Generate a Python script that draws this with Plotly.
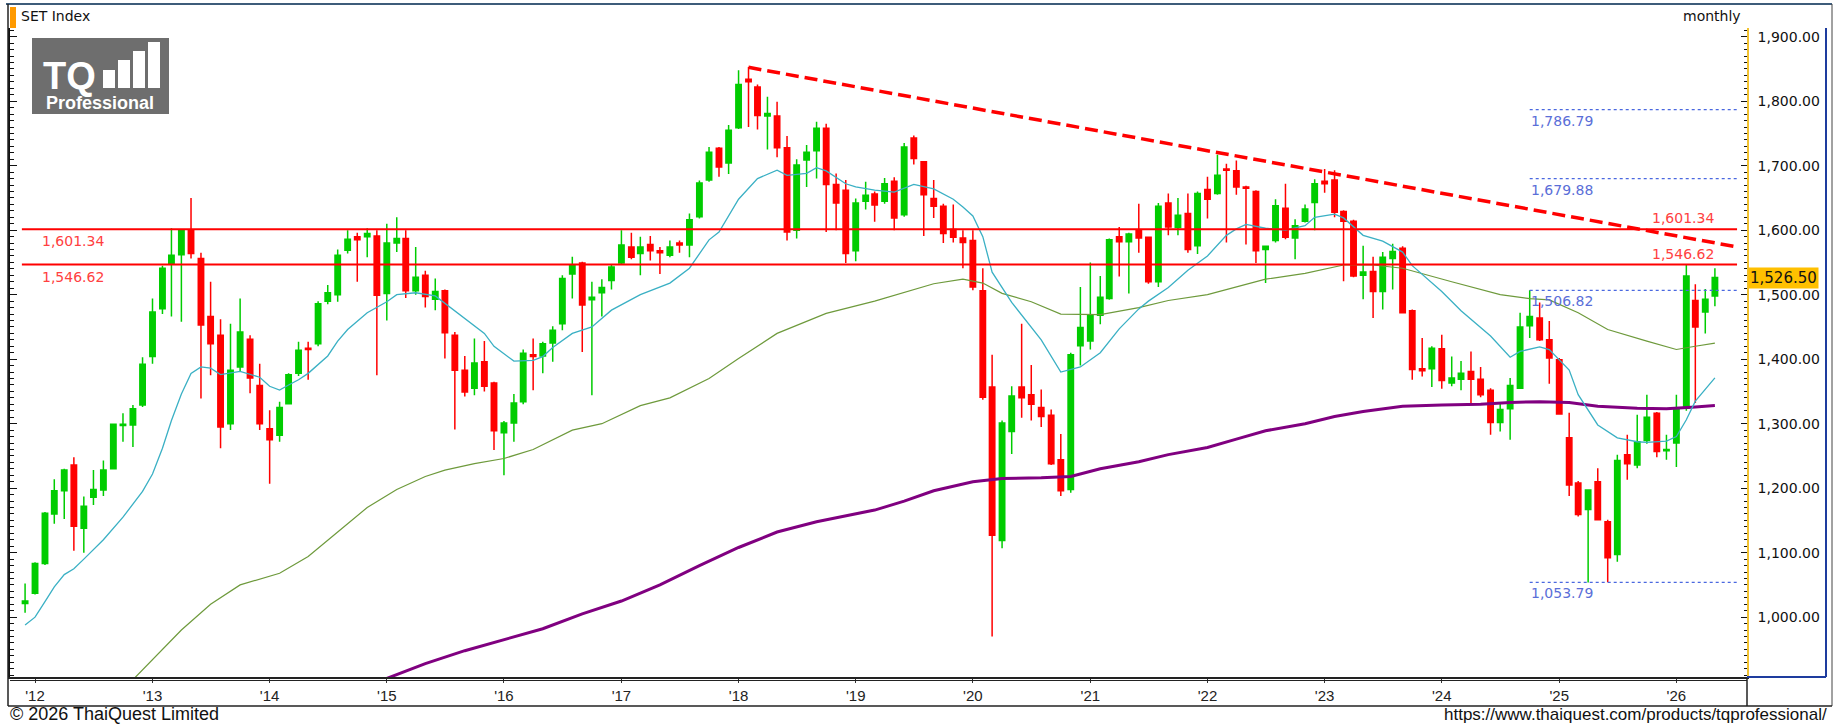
import plotly.graph_objects as go
import pandas as pd

# ---------------- DATA ----------------
months = pd.date_range("2011-12-01", "2026-05-01", freq="MS")

opens = [
1021,
1037,1083,1160,1196,1236,1138,1186,1197,1230,1297,1298,1329,
1404,1478,1548,1562,1600,1556,1466,1437,1300,1388,1431,1359,
1292,1282,1331,1378,1417,1424,1490,1500,1569,1590,1590,1591,
1502,1580,1587,1506,1530,1493,1506,1437,1383,1355,1396,1363,
1286,1301,1334,1407,1405,1425,1455,1532,1549,1492,1503,1522,
1549,1574,1564,1578,1568,1561,1580,1577,1621,1678,1727,1704,
1759,1834,1822,1777,1777,1728,1600,1709,1723,1758,1671,1662,
1568,1645,1656,1645,1676,1624,1743,1706,1649,1637,1601,1588,
1584,1506,1357,1119,1288,1357,1345,1325,1313,1244,1198,1421,
1428,1468,1494,1590,1582,1600,1589,1520,1642,1604,1626,1576,
1663,1657,1695,1692,1667,1660,1570,1584,1634,1588,1614,1643,
1676,1678,1629,1614,1530,1536,1505,1556,1572,1475,1385,1385,
1416,1363,1369,1381,1369,1352,1302,1323,1355,1452,1464,1430,
1399,1278,1208,1167,1210,1148,1097,1252,1236,1274,1316,1258,
1270,1324,1491,1473,1498]

highs = [
1052,
1085,1163,1214,1230,1248,1187,1228,1243,1300,1316,1329,1403,
1494,1545,1603,1601,1650,1565,1520,1462,1455,1494,1437,1393,
1321,1334,1378,1427,1427,1490,1515,1570,1600,1596,1603,1600,
1610,1620,1600,1574,1537,1525,1508,1442,1405,1432,1428,1365,
1304,1346,1415,1432,1427,1451,1530,1559,1551,1520,1524,1547,
1600,1596,1590,1591,1574,1584,1584,1626,1677,1729,1729,1763,
1848,1853,1826,1807,1799,1746,1710,1732,1768,1765,1688,1678,
1649,1675,1660,1681,1682,1735,1747,1707,1678,1641,1640,1600,
1600,1541,1407,1305,1358,1455,1391,1353,1322,1284,1410,1512,
1550,1529,1587,1605,1596,1641,1590,1642,1657,1650,1657,1660,
1683,1717,1703,1708,1669,1662,1576,1648,1672,1617,1640,1679,
1695,1693,1631,1616,1576,1559,1566,1579,1575,1477,1433,1420,
1438,1404,1397,1412,1388,1355,1331,1371,1472,1506.82,1488,1459,
1402,1317,1211,1198,1231,1151,1252,1283,1314,1345,1318,1283,
1345,1546,1516,1509,1541]

lows = [
1007,
1035,1081,1145,1152,1103,1100,1174,1188,1229,1272,1264,1326,
1393,1470,1466,1458,1556,1339,1375,1262,1290,1380,1347,1290,
1207,1272,1330,1374,1368,1420,1485,1489,1564,1520,1558,1375,
1460,1566,1495,1500,1480,1476,1401,1291,1342,1344,1350,1259,
1220,1272,1330,1352,1378,1396,1445,1494,1411,1344,1466,1508,
1546,1555,1530,1553,1532,1558,1565,1558,1618,1675,1683,1687,
1757,1760,1756,1725,1713,1584,1587,1667,1680,1597,1600,1549,
1552,1632,1613,1641,1600,1621,1702,1591,1619,1580,1581,1541,
1507,1337,970,1107,1253,1309,1305,1295,1236,1188,1193,1390,
1415,1454,1492,1528,1502,1565,1517,1512,1592,1592,1565,1563,
1618,1655,1581,1655,1578,1549,1518,1581,1586,1555,1612,1600,
1658,1620,1521,1527,1493,1464,1477,1508,1471,1368,1373,1357,
1354,1358,1352,1332,1341,1283,1288,1275,1354,1433,1428,1362,
1314,1188,1156,1053.79,1150,1054,1086,1213,1231,1269,1248,1244,
1233,1320,1332,1440,1482]

closes = [
1025,
1083,1161,1196,1228,1141,1172,1198,1228,1299,1299,1323,1392,
1473,1541,1561,1599,1564,1453,1424,1295,1383,1442,1371,1300,
1275,1325,1376,1414,1415,1486,1503,1561,1586,1585,1595,1499,
1580,1587,1506,1527,1497,1505,1441,1383,1349,1394,1358,1289,
1301,1332,1409,1404,1424,1445,1525,1546,1484,1496,1511,1543,
1577,1558,1574,1568,1565,1574,1577,1616,1673,1721,1698,1755,
1826,1830,1778,1781,1728,1597,1701,1721,1758,1671,1642,1564,
1642,1654,1639,1672,1619,1729,1711,1655,1637,1595,1589,1581,
1512,1341,1127,1301,1343,1340,1330,1311,1238,1196,1407,1449,
1468,1496,1585,1582,1594,1588,1520,1637,1605,1623,1570,1657,
1648,1685,1693,1667,1665,1568,1575,1638,1589,1607,1633,1672,
1672,1628,1614,1529,1535,1505,1558,1567,1472,1384,1382,1417,
1367,1371,1378,1369,1345,1302,1322,1359,1450,1466,1430,1402,
1315,1205,1159,1197,1151,1092,1243,1238,1272,1310,1257,1260,
1324,1529,1450,1493,1526.5]

# fast moving average (cyan)
cyan_months = ["2011-12","2012-01","2012-02","2012-03","2012-04","2012-05","2012-06","2012-08","2012-10","2012-12",
"2013-01","2013-02","2013-03","2013-04","2013-05","2013-06","2013-07","2013-08","2013-10","2013-12",
"2014-01","2014-02","2014-03","2014-04","2014-05","2014-06","2014-07","2014-08","2014-09","2014-11",
"2015-01","2015-02","2015-04","2015-06","2015-08","2015-09","2015-11","2015-12",
"2016-02","2016-04","2016-05","2016-06","2016-08","2016-10","2016-12",
"2017-03","2017-06","2017-08","2017-10","2017-11",
"2018-01","2018-03","2018-05","2018-06","2018-08","2018-09","2018-10","2018-12",
"2019-01","2019-03","2019-05","2019-07","2019-09","2019-11","2019-12",
"2020-01","2020-02","2020-03","2020-05","2020-08","2020-10","2020-12",
"2021-02","2021-04","2021-06","2021-07","2021-09","2021-11",
"2022-01","2022-03","2022-04","2022-05","2022-07","2022-09","2022-11","2022-12",
"2023-02","2023-03","2023-05","2023-07","2023-09","2023-10",
"2024-01","2024-03","2024-06","2024-08","2024-09","2024-11","2024-12",
"2025-02","2025-03","2025-05","2025-07","2025-09","2025-10","2025-12",
"2026-01","2026-02","2026-03","2026-05"]
cyan_vals = [988,1000,1024,1047,1066,1075,1090,1120,1155,1195,
1222,1262,1305,1346,1378,1388,1386,1376,1381,1372,
1358,1352,1360,1368,1378,1392,1405,1428,1446,1472,
1489,1500,1503,1498,1475,1463,1440,1420,
1397,1398,1404,1418,1440,1450,1476,
1500,1518,1541,1585,1597,
1648,1680,1693,1685,1688,1697,1692,1672,
1667,1662,1659,1671,1664,1648,1636,
1622,1590,1535,1488,1430,1380,1388,
1410,1447,1478,1490,1511,1538,
1560,1592,1602,1609,1603,1600,1607,1620,
1625,1619,1592,1583,1566,1545,
1505,1475,1436,1403,1412,1419,1415,
1383,1345,1298,1278,1272,1271,1273,
1280,1306,1335,1371]

# medium moving average (olive)
olive_months = ["2012-11","2013-04","2013-07","2013-10","2014-02","2014-05","2014-08","2014-11",
"2015-02","2015-05","2015-07","2015-10","2016-01","2016-04","2016-08","2016-11",
"2017-03","2017-06","2017-10","2018-01","2018-05","2018-08","2018-10","2019-03","2019-06","2019-09","2019-12",
"2020-02","2020-04","2020-07","2020-10","2021-02","2021-06","2021-09","2022-01","2022-04","2022-07","2022-11",
"2023-03","2023-06","2023-09","2024-02","2024-07","2024-10","2024-12","2025-03","2025-06","2025-10",
"2026-01","2026-03","2026-05"]
olive_vals = [903,980,1020,1050,1068,1094,1132,1170,
1198,1218,1228,1238,1246,1260,1290,1300,
1328,1340,1370,1401,1440,1458,1471,1490,1504,1517,1524,
1518,1502,1489,1470,1469,1480,1491,1500,1512,1524,1533,
1546,1546,1541,1520,1500,1494,1492,1472,1446,1428,
1415,1420,1425]

# long moving average (purple)
purple_months = ["2015-01","2015-05","2015-09","2016-01","2016-05","2016-09","2017-01","2017-05","2017-09",
"2018-01","2018-05","2018-09","2019-01","2019-03","2019-06","2019-09","2020-01","2020-04","2020-08","2020-11",
"2021-02","2021-06","2021-09","2022-01","2022-04","2022-07","2022-11","2023-02","2023-05","2023-09",
"2024-01","2024-05","2024-08","2024-11","2025-02","2025-05","2025-09","2025-12","2026-03","2026-05"]
purple_vals = [905,928,948,965,982,1005,1025,1050,1080,
1108,1132,1148,1160,1166,1180,1196,1210,1215,1216,1218,
1230,1241,1252,1263,1276,1289,1300,1311,1319,1327,
1329,1330,1333,1334,1333,1327,1324,1323,1326,1328]

level_lines = [1601.34, 1546.62]
dotted_levels = [1786.79, 1679.88, 1506.82, 1053.79]
trend_dates = ["2018-02-01", "2026-07-10"]
trend_vals = [1852.51, 1574.0]
last_price = 1526.50

year_ticks = [f"{y}-01-01" for y in range(2012, 2027)]
year_labels = ["'12","'13","'14","'15","'16","'17","'18","'19","'20","'21","'22","'23","'24","'25","'26"]

# ---------------- LAYOUT GEOMETRY ----------------
W, H = 1835, 725
ML, MR, MT, MB = 10, 88, 28, 48
PW, PH = W - ML - MR, H - MT - MB
def px(x):
    return (x - ML) / PW
def py(y):
    return (H - MB - y) / PH

FONT = "DejaVu Sans"
GREEN = "#00CC00"
RED = "#FF0000"

def to_dates(ms):
    return pd.to_datetime([m + "-01" for m in ms])

fig = go.Figure()
fig.add_trace(go.Candlestick(
    x=months, open=opens, high=highs, low=lows, close=closes,
    increasing=dict(line=dict(color=GREEN, width=1.5), fillcolor=GREEN),
    decreasing=dict(line=dict(color=RED, width=1.5), fillcolor=RED),
    whiskerwidth=0, showlegend=False, hoverinfo="skip"))
fig.add_trace(go.Scatter(x=to_dates(purple_months), y=purple_vals, mode="lines",
    line=dict(color="#800080", width=3), showlegend=False, hoverinfo="skip"))
fig.add_trace(go.Scatter(x=to_dates(olive_months), y=olive_vals, mode="lines",
    line=dict(color="#6E9A3C", width=1.2), showlegend=False, hoverinfo="skip"))
fig.add_trace(go.Scatter(x=to_dates(cyan_months), y=cyan_vals, mode="lines",
    line=dict(color="#3AB0C4", width=1.3), showlegend=False, hoverinfo="skip"))
# helper trace for left axis
fig.add_trace(go.Scatter(x=[months[0]], y=[1000], yaxis="y2", mode="markers",
    marker=dict(opacity=0), showlegend=False, hoverinfo="skip"))

shapes = []
ann = []
lx0, lx1 = "2011-11-21", "2026-07-09"
for lv in level_lines:
    shapes.append(dict(type="line", xref="x", yref="y", x0=lx0, x1=lx1, y0=lv, y1=lv,
                       line=dict(color=RED, width=2)))
    lbl = f"{lv:,.2f}"
    ann.append(dict(xref="paper", yref="y", x=px(40), y=lv, yshift=-12, text=lbl, showarrow=False,
                    xanchor="left", yanchor="middle", font=dict(family=FONT, size=14, color="#FF4040")))
    ann.append(dict(xref="paper", yref="y", x=px(1716), y=lv, yshift=11, text=lbl, showarrow=False,
                    xanchor="right", yanchor="middle", font=dict(family=FONT, size=14, color="#FF4040")))
for dv in dotted_levels:
    shapes.append(dict(type="line", xref="x", yref="y", x0="2024-10-01", x1=lx1, y0=dv, y1=dv,
                       line=dict(color="#4A68E0", width=1.2, dash="dot")))
    ann.append(dict(xref="x", yref="y", x="2024-10-01", y=dv, yshift=-11, xshift=-1, text=f"{dv:,.2f}",
                    showarrow=False, xanchor="left", yanchor="middle",
                    font=dict(family=FONT, size=14, color="#5A6ED8")))
shapes.append(dict(type="line", xref="x", yref="y", x0=trend_dates[0], x1=trend_dates[1],
                   y0=trend_vals[0], y1=trend_vals[1], line=dict(color=RED, width=3.5, dash="13px,6px")))

# frame / panels
def pline(x0, y0, x1, y1, color, w):
    shapes.append(dict(type="line", xref="paper", yref="paper", x0=px(x0), y0=py(y0), x1=px(x1), y1=py(y1),
                       line=dict(color=color, width=w), layer="above"))
pline(6, 4, 1832, 4, "#3E5C7A", 2)       # top frame
pline(8, 4, 8, 706, "#222", 1.5)          # left frame
pline(1832, 4, 1832, 706, "#444", 1)      # right frame
pline(10, 680.5, 1747, 680.5, "#222", 1)  # double axis line
pline(8, 706, 1832, 706, "#222", 1.5)     # bottom of axis band
pline(1747, 677, 1747, 706, "#222", 1.5)  # separator
pline(1826, 28, 1826, 677, "#1E3C9E", 2)  # blue right border
pline(1747, 677, 1826, 677, "#1E3C9E", 2) # blue bottom border
shapes.append(dict(type="rect", xref="paper", yref="paper", x0=px(10), x1=px(16), y0=py(28), y1=py(7),
                   fillcolor="#FF9A00", line=dict(width=0)))

# logo
shapes.append(dict(type="rect", xref="paper", yref="paper", x0=px(32), x1=px(169), y0=py(114), y1=py(38),
                   fillcolor="#6E6E6E", line=dict(width=0), layer="above"))
for (bx0, bx1, by0) in [(103, 115, 70), (118, 130, 60), (133, 145, 51), (148, 160, 42)]:
    shapes.append(dict(type="rect", xref="paper", yref="paper", x0=px(bx0), x1=px(bx1), y0=py(88), y1=py(by0),
                       fillcolor="white", line=dict(width=0), layer="above"))
ann.append(dict(xref="paper", yref="paper", x=px(69), y=py(76), text="<b>TQ</b>", showarrow=False,
                xanchor="center", yanchor="middle", font=dict(family="Liberation Sans", size=38, color="white")))
ann.append(dict(xref="paper", yref="paper", x=px(100), y=py(103), text="<b>Professional</b>", showarrow=False,
                xanchor="center", yanchor="middle", font=dict(family="Liberation Sans", size=18, color="white")))

# texts
ann.append(dict(xref="paper", yref="paper", x=px(19), y=py(16), text="SET Index", showarrow=False,
                xanchor="left", yanchor="middle", font=dict(family=FONT, size=14, color="#111")))
ann.append(dict(xref="paper", yref="paper", x=px(1743), y=py(16), text="monthly", showarrow=False,
                xanchor="right", yanchor="middle", font=dict(family=FONT, size=14, color="#111")))
ann.append(dict(xref="paper", yref="paper", x=px(8), y=py(714), text="© 2026 ThaiQuest Limited", showarrow=False,
                xanchor="left", yanchor="middle", font=dict(family="Liberation Sans", size=18, color="#111")))
ann.append(dict(xref="paper", yref="paper", x=px(1829), y=py(714),
                text="https://www.thaiquest.com/products/tqprofessional/", showarrow=False,
                xanchor="right", yanchor="middle", font=dict(family="Liberation Sans", size=17, color="#111")))
ann.append(dict(xref="paper", yref="y", x=px(1748), y=last_price, text=f"{last_price:,.2f}", showarrow=False,
                xanchor="left", yanchor="middle", bgcolor="#FFC000", borderpad=1,
                font=dict(family=FONT, size=15, color="#111")))

yr = [907.2, 1913.5]
fig.update_layout(
    width=W, height=H, margin=dict(l=ML, r=MR, t=MT, b=MB),
    paper_bgcolor="white", plot_bgcolor="white",
    showlegend=False, boxgap=0.4, boxgroupgap=0.0,
    shapes=shapes, annotations=ann,
    xaxis=dict(type="date", range=["2011-10-15", "2026-08-09"], rangeslider=dict(visible=False),
               tickvals=year_ticks, ticktext=year_labels, ticks="outside", ticklen=4, tickcolor="#333",
               showline=True, linecolor="#222", linewidth=2, showgrid=False, zeroline=False,
               tickfont=dict(family="Liberation Sans", size=15, color="#222")),
    yaxis=dict(side="right", range=yr, tick0=1000, dtick=100, tickformat=",.2f",
               ticks="inside", ticklen=6, tickcolor="#111", showline=True, linecolor="#F2C230", linewidth=1.5,
               showgrid=False, zeroline=False, ticklabelstandoff=6,
               minor=dict(dtick=10, ticks="inside", ticklen=3, tickcolor="#111", showgrid=False),
               tickfont=dict(family=FONT, size=14, color="#111")),
    yaxis2=dict(side="left", overlaying="y", range=yr, tick0=1000, dtick=100, showticklabels=False,
                ticks="inside", ticklen=7, tickcolor="#111", showline=True, linecolor="#111", linewidth=1.5,
                showgrid=False, zeroline=False,
                minor=dict(dtick=10, ticks="inside", ticklen=4, tickcolor="#111", showgrid=False)),
)

fig.write_html("out.html")
